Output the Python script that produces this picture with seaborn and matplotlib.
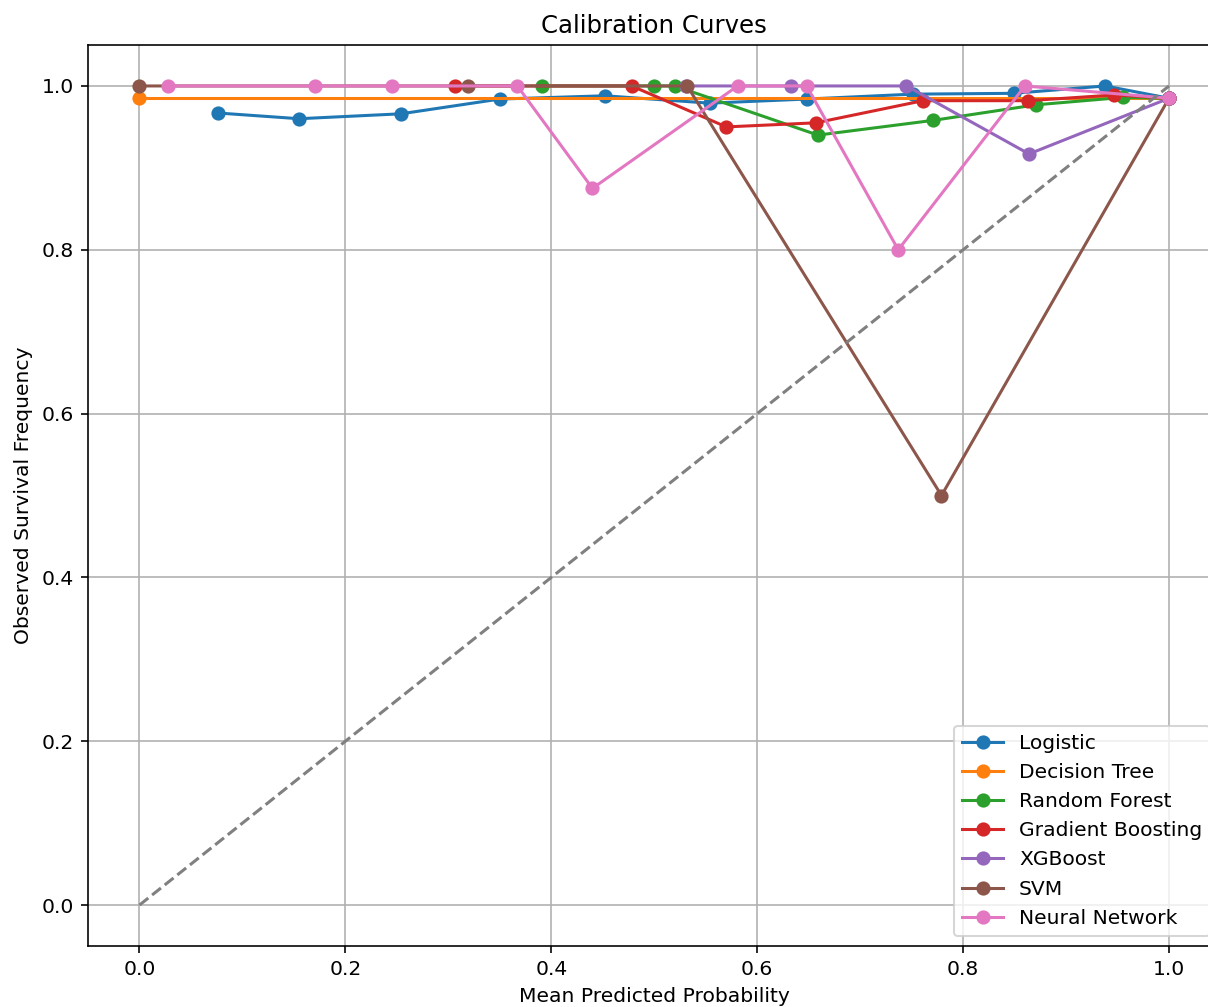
import matplotlib
matplotlib.use("Agg")
import matplotlib.pyplot as plt
import seaborn as sns

# Calibration curve bins per model: mean predicted probability vs observed frequency
models = ["Logistic", "Decision Tree", "Random Forest", "Gradient Boosting",
          "XGBoost", "SVM", "Neural Network"]

logistic_x = [0.076, 0.155, 0.254, 0.350, 0.452, 0.554, 0.648, 0.751, 0.849, 0.938, 1.0]
logistic_y = [0.967, 0.960, 0.966, 0.984, 0.988, 0.979, 0.984, 0.990, 0.991, 1.0, 0.985]

tree_x = [0.0, 1.0]
tree_y = [0.985, 0.985]

forest_x = [0.391, 0.500, 0.520, 0.659, 0.771, 0.871, 0.955, 1.0]
forest_y = [1.0, 1.0, 1.0, 0.940, 0.958, 0.977, 0.986, 0.985]

boosting_x = [0.306, 0.478, 0.570, 0.657, 0.761, 0.863, 0.947, 1.0]
boosting_y = [1.0, 1.0, 0.950, 0.955, 0.982, 0.982, 0.989, 0.985]

xgb_x = [0.531, 0.633, 0.745, 0.864, 1.0]
xgb_y = [1.0, 1.0, 1.0, 0.917, 0.985]

svm_x = [0.0, 0.319, 0.532, 0.779, 1.0]
svm_y = [1.0, 1.0, 1.0, 0.500, 0.985]

nn_x = [0.028, 0.170, 0.245, 0.367, 0.440, 0.581, 0.648, 0.737, 0.860, 1.0]
nn_y = [1.0, 1.0, 1.0, 1.0, 0.875, 1.0, 1.0, 0.800, 1.0, 0.985]

series_x = [logistic_x, tree_x, forest_x, boosting_x, xgb_x, svm_x, nn_x]
series_y = [logistic_y, tree_y, forest_y, boosting_y, xgb_y, svm_y, nn_y]

colors = sns.color_palette("tab10", len(models))

DPI = 146
fig = plt.figure(figsize=(1208 / DPI, 1007 / DPI), dpi=DPI)
ax = fig.add_axes([88 / 1208, 61 / 1007, (1220.5 - 88) / 1208, 901 / 1007])

for name, xs, ys, c in zip(models, series_x, series_y, colors):
    sns.lineplot(x=xs, y=ys, ax=ax, label=name, color=c, marker="o",
                 markersize=6, markeredgecolor=c, markeredgewidth=1.0,
                 linewidth=1.5, sort=False, errorbar=None)

# Perfect calibration reference
ax.plot([0, 1], [0, 1], linestyle="--", color="gray", linewidth=1.5)

ax.set_xlim(-0.05, 1.05)
ax.set_ylim(-0.05, 1.05)
ax.set_xticks([0.0, 0.2, 0.4, 0.6, 0.8, 1.0])
ax.set_yticks([0.0, 0.2, 0.4, 0.6, 0.8, 1.0])
ax.grid(True)
ax.set_title("Calibration Curves", fontsize=12)
ax.set_xlabel("Mean Predicted Probability")
ax.set_ylabel("Observed Survival Frequency")
ax.legend(loc="lower right")

fig.savefig("out.png", dpi=DPI)
